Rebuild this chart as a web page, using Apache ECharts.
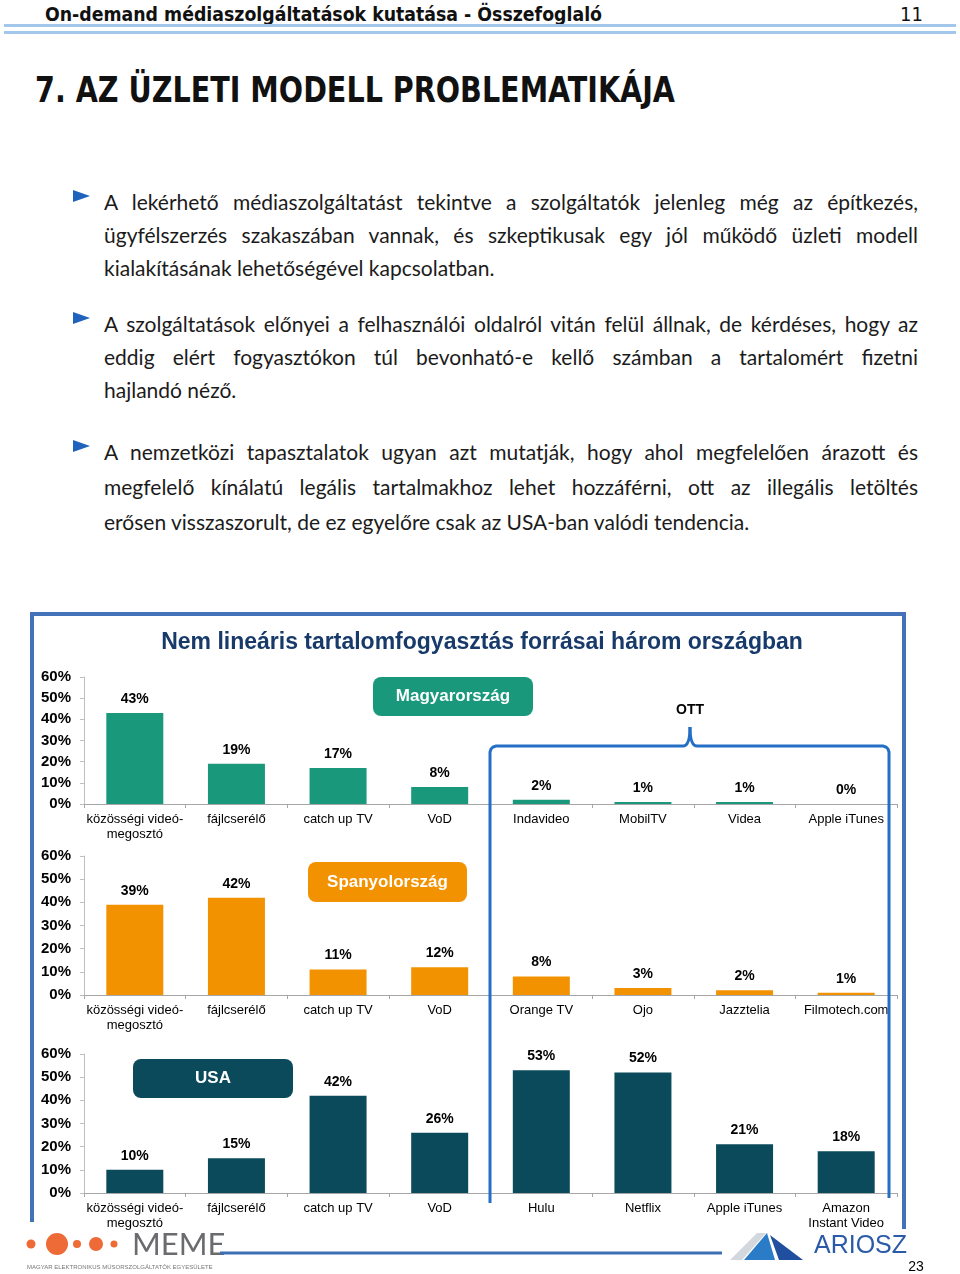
<!DOCTYPE html>
<html>
<head>
<meta charset="utf-8">
<script src="https://cdn.jsdelivr.net/npm/echarts@6/dist/echarts.min.js"></script>
<style>
  html, body { margin: 0; padding: 0; background: #fff; }
  body { width: 960px; height: 1274px; position: relative; overflow: hidden; }
  .fit { position: absolute; white-space: nowrap; transform-origin: 0 0; display: inline-block; }
  #hdr { left: 45px; top: 2px; font: bold 20px "DejaVu Sans Condensed", "Liberation Sans Narrow", "DejaVu Sans", sans-serif; color: #111; }
  #pgno { left: 900px; top: 2px; font: 20px "DejaVu Sans Condensed", "Liberation Sans Narrow", "DejaVu Sans", sans-serif; color: #111; }
  .rule { position: absolute; left: 4px; width: 952px; height: 3px; background: #a3c7ea; }
  #ttl { left: 35px; top: 69px; font: bold 36px "DejaVu Sans Condensed", "Liberation Sans Narrow", "DejaVu Sans", sans-serif; color: #111; }
  .ln { position: absolute; left: 104px; font: 21px Lato, "Open Sans", sans-serif; line-height: 21px; color: #1b1b1b;
        white-space: nowrap; text-align: justify; text-align-last: justify; transform-origin: 0 0; }
  .ln.last { text-align: left; text-align-last: left; }
  .bul { position: absolute; left: 73px; width: 0; height: 0; border-top: 6.5px solid transparent; border-bottom: 6.5px solid transparent; border-left: 17px solid #1f63bd; }
  #chart { position: absolute; left: 0; top: 600px; width: 960px; height: 674px; }
</style>
</head>
<body>
<div id="hdr" class="fit">On-demand médiaszolgáltatások kutatása - Összefoglaló</div>
<div id="pgno" class="fit">11</div>
<div class="rule" style="top:24px"></div>
<div class="rule" style="top:31px"></div>
<div id="ttl" class="fit">7. AZ ÜZLETI MODELL PROBLEMATIKÁJA</div>
<div id="para"></div>
<div id="chart"></div>
<script>
// ---- page text ----
const paragraphs = [
  { baselines: [210, 243, 276], bullet: 190, lines: [
    'A lekérhető médiaszolgáltatást tekintve a szolgáltatók jelenleg még az építkezés,',
    'ügyfélszerzés szakaszában vannak, és szkeptikusak egy jól működő üzleti modell',
    'kialakításának lehetőségével kapcsolatban.'] },
  { baselines: [332, 365, 398], bullet: 312, lines: [
    'A szolgáltatások előnyei a felhasználói oldalról vitán felül állnak, de kérdéses, hogy az',
    'eddig elért fogyasztókon túl bevonható-e kellő számban a tartalomért fizetni',
    'hajlandó néző.'] },
  { baselines: [460, 495, 530], bullet: 440, lines: [
    'A nemzetközi tapasztalatok ugyan azt mutatják, hogy ahol megfelelően árazott és',
    'megfelelő kínálatú legális tartalmakhoz lehet hozzáférni, ott az illegális letöltés',
    'erősen visszaszorult, de ez egyelőre csak az USA-ban valódi tendencia.'] }
];

// ---- chart data ----
const baseCategories = ['közösségi videó-\nmegosztó', 'fájlcserélő', 'catch up TV', 'VoD'];
const categoriesHU = baseCategories.concat(['Indavideo', 'MobilTV', 'Videa', 'Apple iTunes']);
const valuesHU = [43, 19, 17, 8, 2, 1, 1, 0];
const categoriesES = baseCategories.concat(['Orange TV', 'Ojo', 'Jazztelia', 'Filmotech.com']);
const valuesES = [39, 42, 11, 12, 8, 3, 2, 1];
const categoriesUS = baseCategories.concat(['Hulu', 'Netflix', 'Apple iTunes', 'Amazon\nInstant Video']);
const valuesUS = [10, 15, 42, 26, 53, 52, 21, 18];
const countryNames = ['Magyarország', 'Spanyolország', 'USA'];

function fitWidth(id, w) {
  const el = document.getElementById(id);
  const r = el.getBoundingClientRect().width;
  el.style.transform = 'scaleX(' + (w / r) + ')';
}

function buildText() {
  fitWidth('hdr', 557);
  fitWidth('ttl', 640);
  const host = document.getElementById('para');
  // measure a free line to get the horizontal squeeze (source font is narrower)
  const probe = document.createElement('div');
  probe.className = 'ln last';
  probe.style.display = 'inline-block';
  probe.textContent = paragraphs[2].lines[2];
  host.appendChild(probe);
  const s = Math.min(1, 667 / probe.getBoundingClientRect().width);
  host.removeChild(probe);
  paragraphs.forEach(p => {
    const b = document.createElement('div');
    b.className = 'bul';
    b.style.top = p.bullet + 'px';
    host.appendChild(b);
    p.lines.forEach((t, i) => {
      const d = document.createElement('div');
      d.className = 'ln' + (i === p.lines.length - 1 ? ' last' : '');
      d.textContent = t;
      d.style.top = (p.baselines[i] - 18.6) + 'px';
      d.style.width = (814 / s) + 'px';
      d.style.transform = 'scaleX(' + s + ')';
      host.appendChild(d);
    });
  });
}
buildText();

// ---- chart ----
const FONT = '"Liberation Sans", Arial, sans-serif';
const panels = [
  { cats: categoriesHU, vals: valuesHU, color: '#19987c', top: 77, height: 127 },
  { cats: categoriesES, vals: valuesES, color: '#f39200', top: 256, height: 139 },
  { cats: categoriesUS, vals: valuesUS, color: '#0b4a5b', top: 454, height: 139 }
];

const chart = echarts.init(document.getElementById('chart'));

const BRACKET = '#246fc4';

const option = {
  animation: false,
  grid: panels.map(p => ({ left: 84, width: 813, top: p.top, height: p.height })),
  xAxis: panels.map((p, i) => ({
    type: 'category',
    gridIndex: i,
    data: p.cats,
    axisLine: { lineStyle: { color: '#a6a6a6', width: 1 } },
    axisTick: { show: true, length: 4, lineStyle: { color: '#a6a6a6' } },
    axisLabel: { interval: 0, color: '#000', fontFamily: FONT, fontSize: 13, lineHeight: 15, margin: 8 }
  })),
  yAxis: panels.map((p, i) => ({
    type: 'value',
    gridIndex: i,
    min: 0, max: 60, interval: 10,
    axisLine: { show: true, lineStyle: { color: '#bfbfbf' } },
    axisTick: { show: true, length: 4, lineStyle: { color: '#bfbfbf' } },
    splitLine: { show: false },
    axisLabel: { formatter: '{value}%', color: '#000', fontFamily: FONT, fontSize: 15, fontWeight: 'bold', margin: 13 }
  })),
  series: panels.map((p, i) => ({
    type: 'bar',
    name: countryNames[i],
    xAxisIndex: i,
    yAxisIndex: i,
    data: p.vals,
    barWidth: 57,
    itemStyle: { color: p.color },
    label: {
      show: true, position: 'top', distance: 7, formatter: '{c}%',
      color: '#000', fontFamily: FONT, fontSize: 14, fontWeight: 'bold'
    }
  })),
  graphic: [
    // outer frame
    { type: 'polyline', z: 10, shape: { points: [[32, 622], [32, 14], [904, 14], [904, 629]] },
      style: { stroke: '#4472b8', lineWidth: 4, fill: null } },
    { type: 'text', z: 10, style: { text: 'Nem lineáris tartalomfogyasztás forrásai három országban',
      x: 482, y: 43, textAlign: 'center', textVerticalAlign: 'middle',
      font: 'bold 23px ' + FONT, fill: '#173a6b' } },
    // OTT bracket
    { type: 'polyline', z: 10, shape: { points: [[490, 603], [490, 152], [491, 149], [493, 147], [496, 146], [683, 146]] },
      style: { stroke: BRACKET, lineWidth: 3, fill: null } },
    { type: 'bezierCurve', z: 10, shape: { x1: 683, y1: 146, cpx1: 690, cpy1: 146, x2: 690, y2: 127 },
      style: { stroke: BRACKET, lineWidth: 3, fill: null } },
    { type: 'bezierCurve', z: 10, shape: { x1: 690, y1: 127, cpx1: 690, cpy1: 146, x2: 697, y2: 146 },
      style: { stroke: BRACKET, lineWidth: 3, fill: null } },
    { type: 'polyline', z: 10, shape: { points: [[697, 146], [883, 146], [886, 147], [888, 149], [889, 152], [889, 598]] },
      style: { stroke: BRACKET, lineWidth: 3, fill: null } },
    { type: 'text', z: 10, style: { text: 'OTT', x: 690, y: 110, textAlign: 'center', textVerticalAlign: 'middle',
      font: 'bold 14px ' + FONT, fill: '#000' } },
    // country tags
    { type: 'rect', z: 10, shape: { x: 373, y: 77, width: 160, height: 39, r: 8 }, style: { fill: '#19987c' } },
    { type: 'text', z: 11, style: { text: countryNames[0], x: 453, y: 96.5, textAlign: 'center', textVerticalAlign: 'middle',
      font: 'bold 17px ' + FONT, fill: '#fff' } },
    { type: 'rect', z: 10, shape: { x: 308, y: 262, width: 159, height: 40, r: 8 }, style: { fill: '#f39200' } },
    { type: 'text', z: 11, style: { text: countryNames[1], x: 387.5, y: 282, textAlign: 'center', textVerticalAlign: 'middle',
      font: 'bold 17px ' + FONT, fill: '#fff' } },
    { type: 'rect', z: 10, shape: { x: 133, y: 459, width: 160, height: 39, r: 8 }, style: { fill: '#0b4a5b' } },
    { type: 'text', z: 11, style: { text: countryNames[2], x: 213, y: 478.5, textAlign: 'center', textVerticalAlign: 'middle',
      font: 'bold 17px ' + FONT, fill: '#fff' } },
    // footer: MEME logo
    { type: 'circle', z: 10, shape: { cx: 31, cy: 644, r: 4.5 }, style: { fill: '#ee6a37' } },
    { type: 'circle', z: 10, shape: { cx: 57, cy: 644, r: 11 }, style: { fill: '#ee6a37' } },
    { type: 'circle', z: 10, shape: { cx: 77, cy: 644, r: 4 }, style: { fill: '#ee6a37' } },
    { type: 'circle', z: 10, shape: { cx: 96, cy: 644, r: 7 }, style: { fill: '#ee6a37' } },
    { type: 'circle', z: 10, shape: { cx: 114, cy: 644, r: 3.5 }, style: { fill: '#ee6a37' } },
    { type: 'text', z: 10, style: { text: 'MEME', x: 132, y: 660, textAlign: 'left', textVerticalAlign: 'bottom',
      font: '31px Lato, "Liberation Sans", sans-serif', fill: '#6a6b6e' } },
    { type: 'text', z: 10, style: { text: 'MAGYAR ELEKTRONIKUS MŰSORSZOLGÁLTATÓK EGYESÜLETE', x: 27, y: 667,
      textAlign: 'left', textVerticalAlign: 'middle', font: '6px ' + FONT, fill: '#777' } },
    { type: 'line', z: 10, shape: { x1: 220, y1: 653, x2: 722, y2: 653 }, style: { stroke: '#3d6fb6', lineWidth: 3 } },
    // footer: ARIOSZ logo
    { type: 'polygon', z: 10, shape: { points: [[730, 660], [757, 633], [766, 633], [742, 660]] }, style: { fill: '#d3d8de' } },
    { type: 'polygon', z: 10, shape: { points: [[744, 660], [767, 633], [775, 660]] }, style: { fill: '#2a7cc7' } },
    { type: 'polygon', z: 10, shape: { points: [[770, 635], [803, 660], [779, 660]] }, style: { fill: '#1f4f9e' } },
    { type: 'text', z: 10, style: { text: 'ARIOSZ', x: 814, y: 659, textAlign: 'left', textVerticalAlign: 'bottom',
      font: '25px ' + FONT, fill: '#2a5aa8' } },
    { type: 'text', z: 10, style: { text: '23', x: 916, y: 667, textAlign: 'center', textVerticalAlign: 'middle',
      font: '14px ' + FONT, fill: '#000' } }
  ]
};

chart.setOption(option);
</script>
</body>
</html>
